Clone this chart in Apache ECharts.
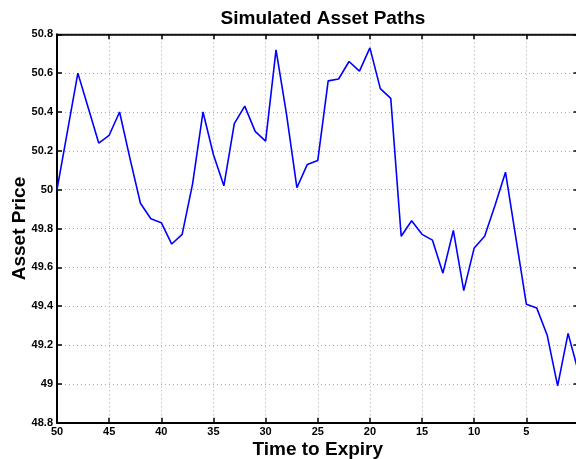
<!DOCTYPE html>
<html>
<head>
<meta charset="utf-8">
<script src="https://cdn.jsdelivr.net/npm/echarts@6/dist/echarts.min.js"></script>
<style>
  html, body { margin: 0; padding: 0; background: #fff; }
  #chart { width: 576px; height: 459px; }
</style>
</head>
<body>
<div id="chart"></div>
<script>
// Time to expiry (days) and the simulated asset price along one path
const timeToExpiry = [50, 49, 48, 47, 46, 45, 44, 43, 42, 41, 40, 39, 38, 37, 36, 35, 34, 33, 32, 31, 30,
  29, 28, 27, 26, 25, 24, 23, 22, 21, 20, 19, 18, 17, 16, 15, 14, 13, 12, 11, 10,
  9, 8, 7, 6, 5, 4, 3, 2, 1, 0];
const assetPrice = [50.00, 50.30, 50.60, 50.42, 50.24, 50.28, 50.40, 50.16, 49.93, 49.85, 49.83,
  49.72, 49.77, 50.03, 50.40, 50.18, 50.02, 50.34, 50.43, 50.30, 50.25,
  50.72, 50.39, 50.01, 50.13, 50.15, 50.56, 50.57, 50.66, 50.61, 50.73,
  50.52, 50.47, 49.76, 49.84, 49.77, 49.74, 49.57, 49.79, 49.48, 49.70,
  49.76, 49.92, 50.09, 49.75, 49.41, 49.39, 49.25, 48.99, 49.26, 49.06];

const xTicks = { min: 0, max: 50, interval: 5 };
const yTicks = { min: 48.8, max: 50.8, interval: 0.2 };

const FONT = '"Liberation Sans", Arial, sans-serif';
const tickLabel = { color: '#000', fontFamily: FONT, fontWeight: 'bold', fontSize: 11 };
const dotted = { show: true, lineStyle: { color: '#a8a8a8', type: [1, 3], width: 1 } };

const chart = echarts.init(document.getElementById('chart'), null, { renderer: 'canvas' });
chart.setOption({
  animation: false,
  backgroundColor: '#fff',
  title: {
    text: 'Simulated Asset Paths',
    left: 318, top: 4, textAlign: 'center',
    textStyle: { fontFamily: FONT, fontWeight: 'bold', fontSize: 19, color: '#000' }
  },
  grid: {
    left: 57, top: 34.3, width: 521.5, height: 388.4,
    show: true, borderColor: '#000', borderWidth: 1,
    containLabel: false, outerBoundsMode: 'none'
  },
  xAxis: [{
    type: 'value', inverse: true,
    min: xTicks.min, max: xTicks.max, interval: xTicks.interval,
    name: 'Time to Expiry', nameLocation: 'middle', nameGap: 18, nameMoveOverlap: false,
    nameTextStyle: { fontFamily: FONT, fontWeight: 'bold', fontSize: 19, color: '#000' },
    axisLine: { show: true, onZero: false, lineStyle: { color: '#000', width: 2 } },
    axisTick: { show: true, inside: true, length: 5, lineStyle: { color: '#000', width: 1.5 } },
    axisLabel: Object.assign({ margin: 4 }, tickLabel),
    splitLine: dotted
  }, {
    type: 'value', inverse: true, position: 'top',
    min: xTicks.min, max: xTicks.max, interval: xTicks.interval,
    axisLine: { show: true, onZero: false, lineStyle: { color: '#000', width: 1.5 } },
    axisTick: { show: true, inside: true, length: 5, lineStyle: { color: '#000', width: 1.5 } },
    axisLabel: { show: false }, splitLine: { show: false }
  }],
  yAxis: [{
    type: 'value',
    min: yTicks.min, max: yTicks.max, interval: yTicks.interval,
    name: 'Asset Price', nameLocation: 'middle', nameGap: 28, nameMoveOverlap: false,
    nameTextStyle: { fontFamily: FONT, fontWeight: 'bold', fontSize: 19, color: '#000' },
    axisLine: { show: true, onZero: false, lineStyle: { color: '#000', width: 2 } },
    axisTick: { show: true, inside: true, length: 5, lineStyle: { color: '#000', width: 1.5 } },
    axisLabel: Object.assign({ margin: 4, formatter: v => String(Math.round(v * 10) / 10) }, tickLabel),
    splitLine: dotted
  }, {
    type: 'value', position: 'right',
    min: yTicks.min, max: yTicks.max, interval: yTicks.interval,
    axisLine: { show: true, onZero: false, lineStyle: { color: '#000', width: 1 } },
    axisTick: { show: true, inside: true, length: 5, lineStyle: { color: '#000', width: 1.5 } },
    axisLabel: { show: false }, splitLine: { show: false }
  }],
  series: [{
    type: 'line',
    data: timeToExpiry.map((t, i) => [t, assetPrice[i]]),
    showSymbol: false,
    lineStyle: { color: '#0000ff', width: 1.6 },
    clip: true
  }]
});
</script>
</body>
</html>
